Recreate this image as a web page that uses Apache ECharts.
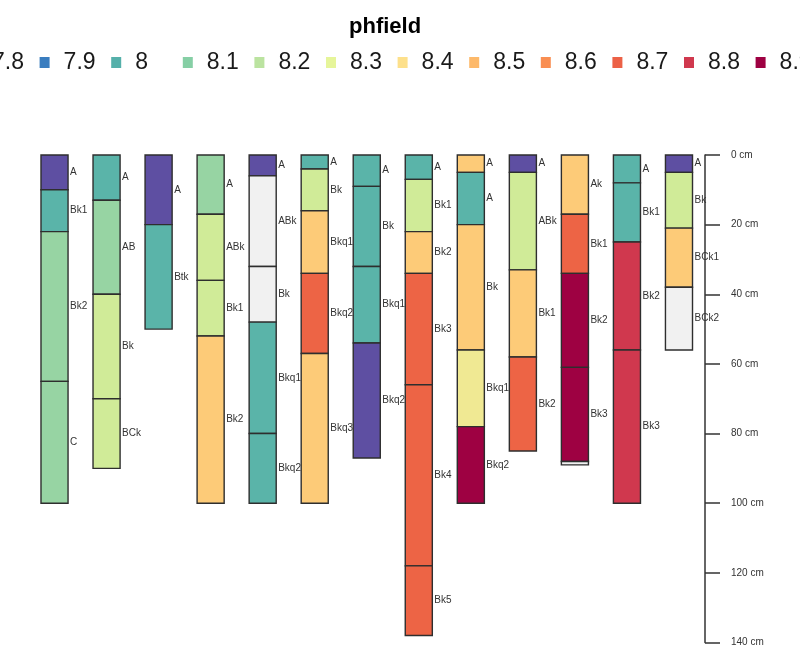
<!DOCTYPE html>
<html>
<head>
<meta charset="utf-8">
<script src="https://cdn.jsdelivr.net/npm/echarts@6/dist/echarts.min.js"></script>
<style>
html,body{margin:0;padding:0;background:#fff;}
#chart{width:800px;height:665px;}
</style>
</head>
<body>
<div id="chart"></div>
<script>
// ---- data ----
const hzProfile = [1,1,1,1, 2,2,2,2, 3,3, 4,4,4,4, 5,5,5,5,5, 6,6,6,6,6, 7,7,7,7, 8,8,8,8,8,8, 9,9,9,9,9, 10,10,10,10, 11,11,11,11,11, 12,12,12,12, 13,13,13,13];
const hzTop    = [0,10,22,65, 0,13,40,70, 0,20, 0,17,36,52, 0,6,32,48,80, 0,4,16,34,57, 0,9,32,54, 0,7,22,34,66,118, 0,5,20,56,78, 0,5,33,58, 0,17,34,61,88, 0,8,25,56, 0,5,21,38];
const hzBottom = [10,22,65,100, 13,40,70,90, 20,50, 17,36,52,100, 6,32,48,80,100, 4,16,34,57,100, 9,32,54,87, 7,22,34,66,118,138, 5,20,56,78,100, 5,33,58,85, 17,34,61,88,89, 8,25,56,100, 5,21,38,56];
const hzName   = ['A','Bk1','Bk2','C', 'A','AB','Bk','BCk', 'A','Btk', 'A','ABk','Bk1','Bk2', 'A','ABk','Bk','Bkq1','Bkq2', 'A','Bk','Bkq1','Bkq2','Bkq3', 'A','Bk','Bkq1','Bkq2', 'A','Bk1','Bk2','Bk3','Bk4','Bk5', 'A','A','Bk','Bkq1','Bkq2', 'A','ABk','Bk1','Bk2', 'Ak','Bk1','Bk2','Bk3','', 'A','Bk1','Bk2','Bk3', 'A','Bk','BCk1','BCk2'];
const hzPH     = [7.8,8.0,8.1,8.1, 8.0,8.1,8.2,8.2, 7.8,8.0, 8.1,8.2,8.2,8.5, 7.8,null,null,8.0,8.0, 8.0,8.2,8.5,8.7,8.5, 8.0,8.0,8.0,7.8, 8.0,8.2,8.5,8.7,8.7,8.7, 8.5,8.0,8.5,8.3,8.9, 7.8,8.2,8.5,8.7, 8.5,8.7,8.9,8.9,null, 8.0,8.0,8.8,8.8, 7.8,8.2,8.5,null];
const legendLevels = ['7.8','7.9','8','8.1','8.2','8.3','8.4','8.5','8.6','8.7','8.8','8.9'];
const depthTicks = [0,140,20];

// ---- styles ----
const legendColors = ['#5E4FA2','#3A7DBF','#55B0AA','#86CFA5','#BBE3A0','#E6F59A','#FDE08B','#FDB96A','#F98E52','#EC6146','#D0384E','#9E0142'];
const fillColors = {'7.8':'#5E4FA2','8':'#5AB4A9','8.1':'#97D4A3','8.2':'#D0EB98','8.3':'#F0E993','8.5':'#FDCB78','8.7':'#ED6445','8.8':'#D0384E','8.9':'#9E0142'};
const naColor = '#F1F1F1';
const legendStart = -32, legendPitch = 71.6;

const hzData = hzProfile.map((p,i)=>[p, hzTop[i], hzBottom[i], hzPH[i], hzName[i]]);

const chart = echarts.init(document.getElementById('chart'), null, {renderer:'canvas'});
const legendSeries = legendLevels.map((l,i)=>({
  name:l, type:'scatter', data:[], itemStyle:{color:legendColors[i], opacity:1}, silent:true
}));
const legends = legendLevels.map((l,i)=>({
  data:[{name:l, itemStyle:{color:legendColors[i], opacity:1}}],
  left:legendStart + i*legendPitch, top:51, padding:0,
  icon:'rect', itemWidth:10, itemHeight:11, selectedMode:false,
  textStyle:{fontFamily:'Liberation Sans', fontSize:23, color:'#1a1a1a', padding:[0,0,0,9]}
}));

chart.setOption({
  animation:false,
  backgroundColor:'#fff',
  title:{text:'phfield', left:349, top:16, padding:0,
    textStyle:{fontFamily:'Liberation Sans', fontSize:22, fontWeight:'bold', color:'#000'}},
  legend:legends,
  grid:{left:28.5, right:95, top:155, bottom:665-642.5},
  xAxis:{type:'value', min:0.5, max:13.5, show:false},
  yAxis:{type:'value', inverse:true, min:depthTicks[0], max:depthTicks[1], interval:depthTicks[2], position:'right',
    axisLine:{show:true, lineStyle:{color:'#333', width:1.5}},
    axisTick:{show:true, length:15, lineStyle:{color:'#333', width:1.5}},
    axisLabel:{formatter:'{value} cm', margin:26, fontFamily:'Liberation Sans', fontSize:10, color:'#333'},
    splitLine:{show:false}},
  series:[{
    type:'custom',
    data:hzData,
    encode:{x:0, y:[1,2]},
    clip:false,
    renderItem:function(params, api){
      const x = api.value(0), top = api.value(1), bot = api.value(2);
      const ph = hzData[params.dataIndex][3];
      const name = hzData[params.dataIndex][4];
      const p1 = api.coord([x - 0.26, top]);
      const p2 = api.coord([x + 0.26, bot]);
      const fill = ph == null ? naColor : (fillColors[String(ph)] || naColor);
      return {type:'group', children:[
        {type:'rect', shape:{x:p1[0], y:p1[1], width:p2[0]-p1[0], height:p2[1]-p1[1]},
         style:{fill:fill, stroke:'#2e2e2e', lineWidth:1.4}},
        {type:'text', style:{text:name, x:p2[0]+2, y:(p1[1]+p2[1])/2, verticalAlign:'middle', align:'left',
          font:'10px "Liberation Sans"', fill:'#333'}}
      ]};
    }
  }].concat(legendSeries)
});
</script>
</body>
</html>
